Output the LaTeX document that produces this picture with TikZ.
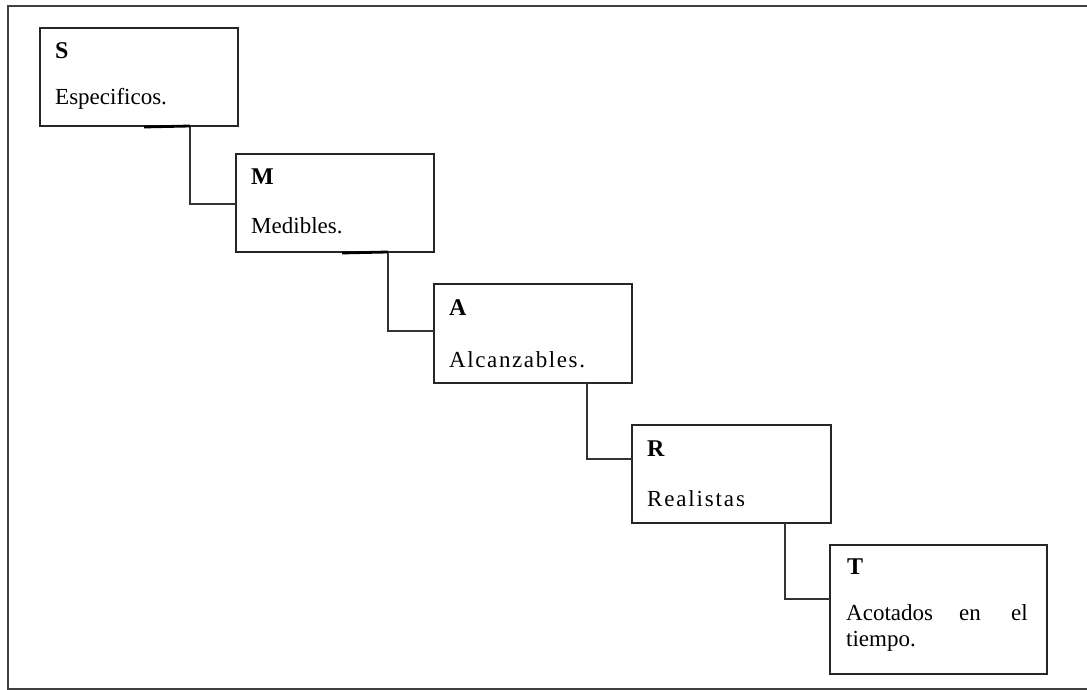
\documentclass[tikz,border=0pt]{standalone}
\usepackage{fontspec}
\setmainfont{Liberation Serif}
\begin{document}
\begin{tikzpicture}[x=1pt,y=-1pt,
  box/.style={draw=black!85,line width=1.5pt},
  link/.style={draw=black!80,line width=1.4pt},
  tab/.style={draw=black,line width=2.8pt},
  head/.style={anchor=base west,inner sep=0pt,font=\fontsize{24}{26}\selectfont\bfseries},
  body/.style={anchor=base west,inner sep=0pt,font=\fontsize{23}{26}\selectfont}]
\useasboundingbox (0,0) rectangle (1087,690);
\begin{scope}
  \clip (0,0) rectangle (1087,690);
  \draw[draw=black!75,line width=1.8pt] (8,6) rectangle (1100,689);
\end{scope}

% the five steps
\draw[box] (40,28) rectangle (238,126);
\draw[box] (236,154) rectangle (434,252);
\draw[box] (434,284) rectangle (632,383);
\draw[box] (632,425) rectangle (831,523);
\draw[box] (830,545) rectangle (1047,674);

\coordinate (Sb) at (190,126);
\coordinate (Ml) at (236,204);
\coordinate (Mb) at (388,252);
\coordinate (Al) at (434,331);
\coordinate (Ab) at (587,383);
\coordinate (Rl) at (632,459);
\coordinate (Rb) at (785,523);
\coordinate (Tl) at (830,599);

% connectors between steps
\draw[link] (Sb) |- (Ml);
\draw[link] (Mb) |- (Al);
\draw[link] (Ab) |- (Rl);
\draw[link] (Rb) |- (Tl);
\draw[tab] (144,127) -- (Sb);
\draw[tab] (342,253) -- (Mb);

% labels
\node[head] (sh) at (55,59) {S};
\node[body] (st) at (55,105) {Especificos.};
\node[head] (mh) at (251,185) {M};
\node[body] (mt) at (251,233) {Medibles.};
\node[head] (ah) at (449,315) {A};
\node[body] (at) at (449,367) {\addfontfeatures{LetterSpace=7}Alcanzables.};
\node[head] (rh) at (647,456) {R};
\node[body] (rt) at (647,506) {\addfontfeatures{LetterSpace=8}Realistas};
\node[head] (th) at (847,574) {T};
\node[body] (tt1) at (846,620) {Acotados};
\node[body] (tt2) at (959,620) {en};
\node[body,anchor=base east] (tt3) at (1028,620) {el};
\node[body] (tt4) at (846,646) {tiempo.};
\end{tikzpicture}
\end{document}
